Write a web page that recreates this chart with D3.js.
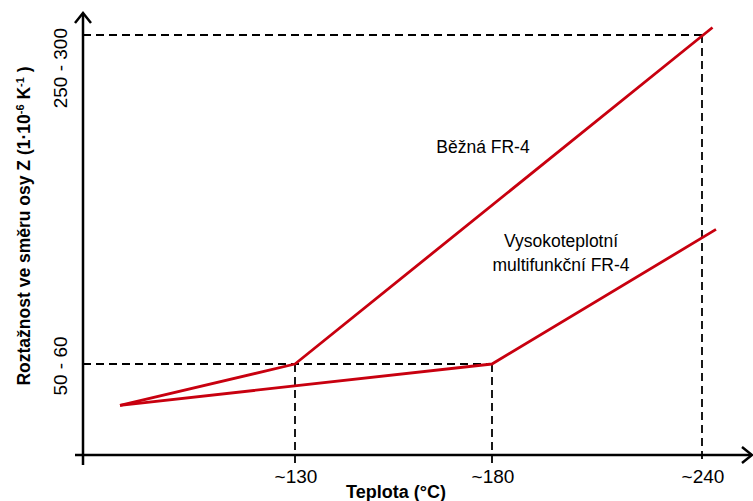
<!DOCTYPE html>
<html>
<head>
<meta charset="utf-8">
<script src="https://cdn.jsdelivr.net/npm/d3@7"></script>
<style>
  body { margin: 0; background: #fff; }
  text { font-family: "Liberation Sans", Arial, sans-serif; fill: #000; }
</style>
</head>
<body>
<svg width="753" height="501"></svg>
<script>
// x: teplota (°C), y: roztažnost (1e-6 / K) - schematic values
const tempTicks = [130, 180, 240];
const tempLabels = ["~130", "~180", "~240"];
const cteTicks = [55, 275];
const cteLabels = ["50 - 60", "250 - 300"];

const beznaTemp = [25, 130, 243];
const beznaCte = [30, 55, 280];
const vysoTemp = [25, 180, 244];
const vysoCte = [30, 55, 145];

// dashed guide lines: corner points
const guideTemp = [130, 180, 240];
const guideCte = [55, 55, 275];

const svg = d3.select("svg");

// the original is schematic, so the scales are piecewise
const x = d3.scaleLinear().domain([25, 130, 180, 240]).range([120, 295, 492, 702]);
const y = d3.scaleLinear().domain([0, 55, 275]).range([455, 364, 35]);

const originX = 83;
const originY = y(0);

// dashed guides
const guides = guideTemp.map((t, i) => ({ t: t, z: guideCte[i] }));
svg.selectAll(".vguide")
    .data(guides)
    .enter().append("line")
    .attr("class", "vguide")
    .attr("x1", d => x(d.t))
    .attr("x2", d => x(d.t))
    .attr("y1", d => y(d.z))
    .attr("y2", originY + 8)
    .attr("stroke", "#000")
    .attr("stroke-width", 1.8)
    .attr("stroke-dasharray", "8,5");

// horizontal guides go to the furthest corner at that level
const hguides = cteTicks.map(z => ({ z: z, t: d3.max(guides.filter(g => g.z === z), g => g.t) }));
svg.selectAll(".hguide")
    .data(hguides)
    .enter().append("line")
    .attr("class", "hguide")
    .attr("x1", originX)
    .attr("x2", d => x(d.t))
    .attr("y1", d => y(d.z))
    .attr("y2", d => y(d.z))
    .attr("stroke", "#000")
    .attr("stroke-width", 1.8)
    .attr("stroke-dasharray", "8,5");

// axes
svg.append("line")
    .attr("x1", originX).attr("x2", originX)
    .attr("y1", 14).attr("y2", originY + 10)
    .attr("stroke", "#000").attr("stroke-width", 2.5);
svg.append("line")
    .attr("x1", originX - 8).attr("x2", 751)
    .attr("y1", originY).attr("y2", originY)
    .attr("stroke", "#000").attr("stroke-width", 2.5);

// arrow heads
svg.append("path")
    .attr("d", `M${originX - 8},${23} L${originX},${13} L${originX + 8},${23}`)
    .attr("fill", "none").attr("stroke", "#000").attr("stroke-width", 2.5);
svg.append("path")
    .attr("d", `M${742},${originY - 8} L${752},${originY} L${742},${originY + 8}`)
    .attr("fill", "none").attr("stroke", "#000").attr("stroke-width", 2.5);

// tick labels
svg.selectAll(".xtick")
    .data(tempTicks)
    .enter().append("text")
    .attr("class", "xtick")
    .attr("x", d => x(d) + 1)
    .attr("y", 483)
    .attr("text-anchor", "middle")
    .attr("font-size", "19px")
    .text((d, i) => tempLabels[i]);

svg.selectAll(".ytick")
    .data(cteTicks)
    .enter().append("text")
    .attr("class", "ytick")
    .attr("transform", d => `translate(67,${y(d)}) rotate(-90)`)
    .attr("text-anchor", (d, i) => i === 0 ? "middle" : "end")
    .attr("dx", (d, i) => i === 0 ? -2 : 7)
    .attr("font-size", "19px")
    .text((d, i) => cteLabels[i]);

// axis titles
svg.append("text")
    .attr("x", 396)
    .attr("y", 498)
    .attr("text-anchor", "middle")
    .attr("font-size", "18px")
    .attr("font-weight", "bold")
    .text("Teplota (°C)");

const ytitle = svg.append("text")
    .attr("transform", "translate(30,226) rotate(-90)")
    .attr("text-anchor", "middle")
    .attr("font-size", "17.5px")
    .attr("font-weight", "bold");
ytitle.append("tspan").text("Roztažnost ve směru osy Z (1·10");
ytitle.append("tspan").attr("font-size", "11px").attr("dy", -6).text("-6");
ytitle.append("tspan").attr("dy", 6).text(" K");
ytitle.append("tspan").attr("font-size", "11px").attr("dy", -6).text("-1");
ytitle.append("tspan").attr("dy", 6).text(" )");

// curves
const line = d3.line().x(d => x(d[0])).y(d => y(d[1]));
const series = [
    d3.zip(beznaTemp, beznaCte),
    d3.zip(vysoTemp, vysoCte)
];
svg.selectAll(".curve")
    .data(series)
    .enter().append("path")
    .attr("class", "curve")
    .attr("d", line)
    .attr("fill", "none")
    .attr("stroke", "#c8000f")
    .attr("stroke-width", 2.8)
    .attr("stroke-linejoin", "round");

// labels of the curves
svg.append("text")
    .attr("x", 483).attr("y", 153)
    .attr("text-anchor", "middle")
    .attr("font-size", "17.5px")
    .text("Běžná FR-4");
svg.append("text")
    .attr("x", 561).attr("y", 247)
    .attr("text-anchor", "middle")
    .attr("font-size", "17.5px")
    .text("Vysokoteplotní");
svg.append("text")
    .attr("x", 561).attr("y", 271)
    .attr("text-anchor", "middle")
    .attr("font-size", "17.5px")
    .text("multifunkční FR-4");
</script>
</body>
</html>
